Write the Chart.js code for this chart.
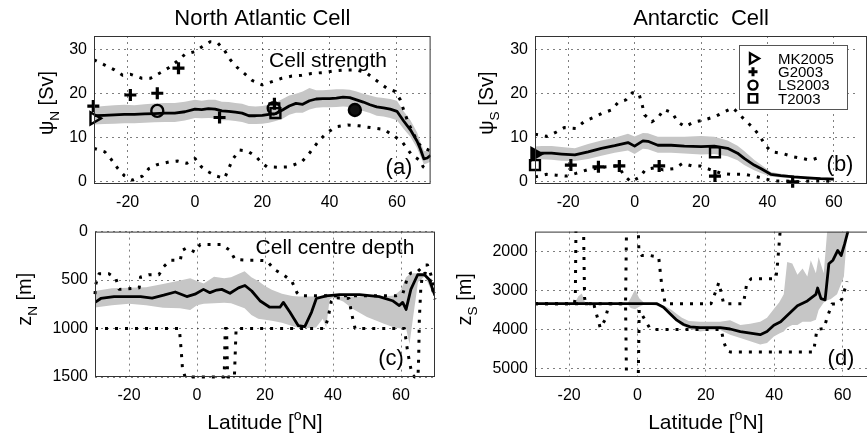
<!DOCTYPE html>
<html>
<head>
<meta charset="utf-8">
<title>Overturning cells</title>
<script src="https://cdn.jsdelivr.net/npm/chart.js@4.4.1/dist/chart.umd.min.js"></script>
<style>
  body { margin: 0; background: #fff; }
  #wrap { position: relative; width: 867px; height: 434px; overflow: hidden; }
  canvas { position: absolute; }
</style>
</head>
<body>
<div id="wrap">
  <canvas id="cA" width="440" height="215" style="left:0px;top:0px"></canvas>
  <canvas id="cB" width="427" height="215" style="left:440px;top:0px"></canvas>
  <canvas id="cC" width="440" height="219" style="left:0px;top:215px"></canvas>
  <canvas id="cD" width="427" height="219" style="left:440px;top:215px"></canvas>
</div>
<script>
// tick labels
var latTicks = [-20, 0, 20, 40, 60];
var psiTicks = [0, 10, 20, 30];
var zNTicks = [0, 500, 1000, 1500];
var zSTicks = [2000, 3000, 4000, 5000];
var sources = ['MK2005', 'G2003', 'LS2003', 'T2003'];

// (a) North Atlantic cell strength [Sv]
var latA = [-30,-27,-24,-21,-18,-15,-12,-9,-6,-3,0,2,4,6,8,10,12,14,16,18,20,22,24,26,28,30,32,34,36,38,40,42,44,46,48,50,52,54,56,58,60,62,64,66,67,68,69,70];
var psiN = [15.0,15.1,15.2,15.3,15.3,15.4,15.5,15.6,15.6,15.9,16.5,16.4,16.6,16.5,16.1,16.0,15.8,15.6,15.0,15.0,15.1,15.3,15.5,16.3,17.2,17.8,17.6,18.4,18.8,18.9,18.9,19.0,19.2,19.1,18.6,18.1,17.5,17.0,16.8,16.5,16.0,13.8,11.8,9.2,7.4,5.2,5.4,6.0];
var bandUpA = [17.0,17.2,17.4,17.5,17.4,17.6,17.8,17.9,17.9,18.2,18.6,18.4,18.6,18.6,18.2,18.1,17.9,17.7,17.2,17.1,17.2,17.5,18.0,18.8,19.6,20.0,20.5,21.3,20.8,20.8,20.9,21.0,21.0,20.9,20.5,20.0,19.6,19.2,19.0,18.8,18.4,16.0,14.0,11.2,9.0,7.0,7.0,7.2];
var bandLoA = [13.0,13.1,13.2,13.3,13.3,13.4,13.5,13.6,13.6,13.9,14.5,14.4,14.5,14.4,14.0,14.0,13.8,13.6,13.1,13.1,13.2,13.4,13.8,14.3,15.2,15.7,15.7,16.4,16.8,16.9,16.9,17.0,17.1,17.0,16.5,16.1,15.6,15.0,14.8,14.5,14.0,12.0,10.2,7.6,5.8,4.0,4.2,4.6];
var hiLatA = [-30,-26.8,-23.9,-21.5,-19.1,-15.8,-13.2,-10.2,-7.8,-5.4,-2.9,-0.2,2.2,4.5,6.7,8.8,10.5,12.5,14.8,17,20,22,25.8,28.8,31.7,34.6,38,41.5,44.9,47.8,50.8,53.7,57.1,59.5,61,62,63.4,64.9,66.3,68.3,70];
var hiA = [27.7,26.5,25.4,24.2,24.4,23.5,23.5,24.8,25.9,27.3,29,29.5,30.7,31.8,31.6,29.8,27.7,26,24.5,23,22,22.5,23.5,24,24.2,24.6,24.8,25.2,25.4,25.4,24.8,23.1,21.2,20.5,18.6,16.3,13.3,11,8.7,7.6,7.0];
var loLatA = [-30,-26.8,-24.9,-22.9,-21,-18.5,-15.6,-13.7,-11.2,-7.8,-5.1,-2.4,0,1.9,3.9,6.3,8.8,11.2,13.2,15.6,18,20,21.4,24.4,27.8,31.7,34.1,36.6,39,41.9,45.4,48.7,52.2,56.1,59.5,61.5,64.4,66.8,67.8,69.5];
var loA = [7.6,6.8,5.1,3,1.4,0.4,1.3,3,3.9,4.5,4.7,4.2,5.3,3.4,2.3,1.3,0.8,5.1,7.2,7,5.8,4.2,3.4,3.3,3.4,4.5,6.6,9.1,11,12.5,12.9,12.7,12.3,11.9,10.2,9.1,6.1,4.9,3.4,2.5];
var mkLatA = [-30], mkA = [14.4];
var gLatA = [-30.2,-19.2,-11.2,-4.9,7.3,23.6], gA = [17.2,19.7,20.1,25.8,14.6,17.7];
var lsLatA = [-11.2,23.4,47.5], lsA = [16.1,16.7,16.3];
var tLatA = [23.9], tA = [15.6];

// (b) Antarctic cell strength [Sv]
var latB = [-30,-28,-25,-22,-18,-14,-10,-6,-2,0,2.5,4,7,11,15,20,24,28,31,33,36,38,41,44,48,52,56,60];
var psiS = [6.4,6.5,6.5,6.3,6.1,6.8,7.6,8.2,8.9,8.1,9.3,9.2,8.3,8.3,8.1,8.0,8.1,7.6,6.5,5.3,3.8,3.0,1.7,1.4,1.1,0.9,0.7,0.6];
var bandUpB = [8.0,8.1,8.1,7.9,7.6,8.6,9.4,10.0,10.9,10.3,11.1,11.0,10.2,10.2,10.2,10.4,10.2,9.4,8.2,7.0,5.0,3.9,2.2,1.8,1.4,1.2,1.0,0.9];
var bandLoB = [5.0,5.1,5.0,4.8,4.7,5.2,5.9,6.6,7.1,6.3,7.5,7.4,6.6,6.6,6.4,6.2,6.3,5.8,4.9,3.8,2.6,2.0,1.2,1.0,0.8,0.6,0.4,0.3];
var hiLatB = [-30,-26.5,-23.6,-21.2,-17.7,-15.3,-12.4,-9.9,-7,-5,-2.6,-0.7,1.3,2.3,3,5.2,7.1,8.8,11.3,13,15.2,17.9,20.8,24.2,27.1,29.6,33,35.9,37.9,39.3,41.3,44.7,47.7,50.6,53,55.5];
var hiB = [10.8,10.3,11.3,12.3,12.1,13.6,14.6,15.5,16.3,18,18.6,20.2,20,17.4,15.2,13.6,14.6,16.4,15.7,13.6,12.5,13.6,14,14.8,15.9,16.8,14.2,12.1,10.2,8.3,6.8,6.4,5.7,5.3,4.9,5.5];
var loLatB = [-30,-26.5,-23.6,-20.5,-17.7,-14.3,-8.5,-5,-3.1,-1.1,1.6,3.3,6.2,8.6,12,14.5,17.3,19.8,23,26.2,29.1,33,35.9,38.8,41.8,44.7,49.6,53.5,57.4,60.3];
var loB = [1.1,1.7,1.5,1.3,1.9,2.7,3.4,3.6,1.4,0,1.1,2.8,3.2,2.7,3,4.2,3.6,3.6,2.7,1.9,1.7,1.7,1.3,0.8,0.2,0.2,0,0.2,0.2,0];
var mkLatB = [-30], mkB = [6.3];
var gLatB = [-19.2,-10.9,-4.6,7.4,24.2,47.6], gB = [3.8,3.4,3.6,3.6,1.3,0];
var tLatB = [-30,24.2], tB = [3.8,6.7];

// (c) North Atlantic cell centre depth [m]
var latC = [-30,-28.3,-24.4,-20.5,-16.6,-13.2,-9.8,-6.4,-3,-0.6,1.9,3.8,5.8,7.3,9.7,12.2,14.1,16.1,18.5,21.4,24.4,25.4,27.3,29.8,31.7,33.7,35.1,38,41.9,47.8,53.6,57.5,59.5,60.5,61.5,62.9,64.9,66.9,68.3,70];
var zN = [730,690,670,670,670,686,656,623,670,646,596,630,603,596,636,580,556,613,713,780,780,730,830,971,981,830,690,663,650,650,670,713,763,730,803,596,445,445,495,660];
var bandLatC = [-30,-25,-20,-15,-10,-5,-2,0,2,5,8,10,12,14,16,18,20,22,25,28,30,33,35,37,38,39,40,43,46,50,55,58,60,61.5,62.5,63.5,65,67,70];
var bandUpC = [612,585,578,575,540,505,480,510,535,465,480,470,440,410,470,510,560,600,640,665,670,670,670,660,640,650,670,670,670,670,670,660,600,470,440,430,430,440,620];
var bandLoC = [782,760,745,760,785,790,810,760,745,740,735,740,765,790,860,900,910,920,940,975,995,995,990,900,990,700,680,720,800,880,950,990,1000,1000,1160,900,520,460,690];
var hiLatC = [-30,-29.8,-28.8,-25.9,-23.9,-22.9,-17,-16.6,-14.2,-11.2,-9.8,-7.8,-4.9,-4.4,-3,-0.6,0.9,4.8,7.3,9.7,11.2,14.6,17.5,20.5,22.9,25.4,27.9,29.4,30.3,58.5,60.5,62,62.9,64.4,66.9,67.8,68.8,69.8];
var hiC = [646,546,435,435,479,596,580,469,445,445,362,295,295,194,168,211,134,134,134,194,288,295,295,301,395,445,512,630,663,663,646,462,428,428,345,345,445,630];
var loLatC = [-30,-5.2,-4.9,-4.6,-4.3,-3.5,8,8.3,8.7,9,11,11.5,37.5,38.5,39.5,40.3,44.7,45.5,46.5,61,62,63.2,64,65,65.2,65.4,65.8,66.3,67,68,69,70];
var loC = [1000,1000,1120,1250,1400,1500,1500,1000,1000,1500,1500,1000,1000,900,720,680,690,850,1000,1000,1250,1470,1500,1500,1300,900,600,440,430,440,550,700];

// (d) Antarctic cell centre depth [m]
var latD = [-30,-20,-10,0,4,5.7,7.6,9.6,11.5,13.5,15.4,18.3,21.3,24.2,27.1,30.1,33,35.9,37.9,39.9,41.9,43.8,46.8,49.7,52.2,52.7,53.7,54.9,56,57.2,58.6,59.6,60.6,61.6];
var zS = [3340,3340,3340,3340,3340,3340,3430,3600,3760,3870,3930,3950,3950,3950,3985,4050,4090,4130,4050,3890,3800,3640,3390,3270,3100,2940,3210,3240,2320,2230,1980,2110,1820,1490];
var bandLatD = [-30,-18.5,-17.3,-16.3,-15.2,-13.5,-3,-2,-0.7,0.5,2,5,8,10,11.5,13,15,18.3,21,24.2,27.1,30.1,33,35.9,37.9,39.9,41.5,42.8,43.8,45.3,46.8,48.3,49.7,50.7,52.2,53,54.5,55.5,56.5,58.4,60.4,61.4];
var bandUpD = [3340,3340,3150,3080,3340,3340,3340,3200,2980,3200,3320,3330,3400,3500,3600,3700,3780,3800,3800,3800,3765,3886,3850,3803,3700,3472,3300,3100,2273,2315,2604,2439,2645,2232,2562,2149,2562,1500,1500,1500,1500,1500];
var bandLoD = [3340,3340,3340,3340,3340,3340,3340,3450,3480,3420,3360,3380,3450,3650,3800,3900,3980,4052,4020,4010,4134,4217,4300,4382,4341,4176,4100,4052,3950,3886,3886,3803,3803,3803,3750,3500,3307,3250,3224,3100,2645,1490];
var hiLatD = [-30,-18.5,-18.2,-18,-15.8,-15.5,-15.2,-3.5,-3.2,0.2,0.4,1.3,3.7,6.2,6.8,7.2,7.6,8.1,21.5,22.8,23.8,24.6,25.2,31,32,33.3,40.5,41,41.6,41.9];
var hiD = [3340,3340,3180,1300,1300,3180,3340,3340,1300,1300,2000,2110,2110,2150,2650,2935,3100,3340,3340,3050,2800,3100,3340,3340,2810,2700,2700,2300,1650,1300];
var loLatD = [-30,-12.8,-12.4,-11.6,-10.9,-9.5,-8.8,-8.2,-3.5,-3.2,0.2,0.5,1.5,2.5,3.5,4.5,24.5,25.2,26.2,27.1,51.5,52,52.5,54.6,55.4,56.9,58.3,59.8,60.8,61.3];
var loD = [3340,3340,3490,3730,3960,3750,3510,3340,3340,5400,5400,3500,3650,3800,3950,4000,4000,4300,4550,4570,4570,4300,4000,3970,3720,3350,3350,3220,2935,2770];

var FONT = "'Liberation Sans', Arial, sans-serif";
Chart.defaults.font.family = FONT;
Chart.defaults.color = '#000';

function pts(xs, ys) {
  return xs.map(function (x, i) { return {x: x, y: ys[i]}; });
}

function bandSets(xs, up, lo) {
  return [
    {data: pts(xs, up), showLine: true, pointRadius: 0, borderWidth: 0, borderColor: 'rgba(0,0,0,0)',
     backgroundColor: '#c6c6c6', fill: '+1', order: 4},
    {data: pts(xs, lo), showLine: true, pointRadius: 0, borderWidth: 0, borderColor: 'rgba(0,0,0,0)',
     fill: false, order: 4}
  ];
}

function lineSet(xs, ys, dotted, clip) {
  var ds = {
    data: pts(xs, ys), showLine: true, pointRadius: 0, fill: false,
    borderColor: '#000', borderWidth: dotted ? 3 : 2.8,
    borderDash: dotted ? [3, 7] : [], borderCapStyle: 'butt',
    borderJoinStyle: 'round', order: dotted ? 3 : 2
  };
  if (clip !== undefined) ds.clip = clip;
  return ds;
}

function markSet(xs, ys, style, r, fillCol, rot) {
  return {
    data: pts(xs, ys), showLine: false, clip: false, order: 1,
    pointStyle: style, pointRadius: r, pointBorderWidth: style === 'cross' ? 3.2 : 2.4,
    pointBorderColor: '#000', pointBackgroundColor: fillCol || 'rgba(0,0,0,0)',
    pointRotation: rot || 0
  };
}

function richWidth(ctx, parts, size) {
  var w = 0;
  parts.forEach(function (p) {
    ctx.font = (p.s ? size * 0.68 : size) + 'px ' + FONT;
    w += ctx.measureText(p.t).width;
  });
  return w;
}

function drawRich(ctx, parts, cx, cy, size, rot) {
  ctx.save();
  ctx.translate(cx, cy);
  if (rot) ctx.rotate(-Math.PI / 2);
  ctx.fillStyle = '#000';
  ctx.textBaseline = 'alphabetic';
  ctx.textAlign = 'left';
  var x = -richWidth(ctx, parts, size) / 2;
  parts.forEach(function (p) {
    var sz = p.s ? size * 0.68 : size;
    var dy = p.s === 'sub' ? size * 0.28 : (p.s === 'sup' ? -size * 0.42 : 0);
    ctx.font = sz + 'px ' + FONT;
    ctx.fillText(p.t, x, size * 0.36 + dy);
    x += ctx.measureText(p.t).width;
  });
  ctx.restore();
}

function legendMark(ctx, style, x, y, r, rot) {
  ctx.lineWidth = style === 'cross' ? 3 : 2.4;
  ctx.strokeStyle = '#000';
  ctx.fillStyle = '#fff';
  Chart.helpers.drawPoint(ctx, {pointStyle: style, radius: r, rotation: rot || 0, borderWidth: ctx.lineWidth}, x, y);
}

var decor = {
  id: 'decor',
  afterDraw: function (chart, args, o) {
    var ctx = chart.ctx, a = chart.chartArea;
    var ox = chart.canvas.offsetLeft, oy = chart.canvas.offsetTop;
    var xs = chart.scales.x;
    var right = xs.getPixelForValue(70), left = xs.getPixelForValue(-30);
    var mid = (left + right) / 2;
    ctx.save();
    ctx.strokeStyle = '#333';
    ctx.lineWidth = 1;
    ctx.strokeRect(a.left + 0.5, a.top + 0.5, right - a.left - 1, a.bottom - a.top - 1);
    ctx.restore();

    if (o.title) drawRich(ctx, [{t: o.title}], mid, 17 - oy, 22);
    drawRich(ctx, o.ylab, o.ylabX - ox, (a.top + a.bottom) / 2 + o.ylabDy, 20, true);
    if (o.noteText) drawRich(ctx, [{t: o.noteText}], o.noteX - ox, o.noteY - oy, 21);
    drawRich(ctx, [{t: o.letter}], o.letterX - ox, o.letterY - oy, 22);
    if (o.xlab) {
      drawRich(ctx, [{t: 'Latitude ['}, {t: 'o', s: 'sup'}, {t: 'N]'}], mid, 421 - oy, 21);
    }
    if (o.legend) {
      var bx = 739 - ox, by = 45 - oy;
      ctx.save();
      ctx.fillStyle = '#fff';
      ctx.fillRect(bx, by, 108, 64);
      ctx.strokeStyle = '#555';
      ctx.lineWidth = 1;
      ctx.strokeRect(bx + 0.5, by + 0.5, 108, 64);
      var styles = [['triangle', 6, 90], ['cross', 4.5, 0], ['circle', 4.5, 0], ['rect', 6, 0]];
      for (var i = 0; i < sources.length; i++) {
        var ry = by + 13.5 + i * 13.3;
        legendMark(ctx, styles[i][0], bx + 14, ry, styles[i][1], styles[i][2]);
        ctx.fillStyle = '#000';
        ctx.font = '15px ' + FONT;
        ctx.textBaseline = 'middle';
        ctx.textAlign = 'left';
        ctx.fillText(sources[i], bx + 39, ry + 1);
      }
      ctx.restore();
    }
  }
};

function plain(v) { return String(v); }

function makePanel(id, o) {
  var gridOpts = {color: 'rgba(0,0,0,0.5)', lineWidth: 1, drawTicks: false};
  return new Chart(document.getElementById(id), {
    type: 'scatter',
    data: {datasets: o.datasets},
    options: {
      responsive: false,
      animation: false,
      events: [],
      layout: {padding: o.pad},
      plugins: {legend: {display: false}, tooltip: {enabled: false}, decor: o.decor},
      scales: {
        x: {
          type: 'linear', min: -30, max: o.xMax,
          afterBuildTicks: function (s) { s.ticks = latTicks.map(function (v) { return {value: v}; }); },
          afterFit: function (s) { s.height = o.xH; },
          grid: gridOpts, border: {display: false, dash: [2, 4]},
          ticks: {font: {size: 16}, padding: 9, maxRotation: 0, callback: plain}
        },
        y: {
          type: 'linear', min: o.yMin, max: o.yMax, reverse: !!o.reverse,
          afterBuildTicks: function (s) { s.ticks = o.yTicks.map(function (v) { return {value: v}; }); },
          afterFit: function (s) { s.width = o.yW; },
          grid: gridOpts, border: {display: false, dash: [2, 4]},
          ticks: {font: {size: 16}, padding: 7, callback: plain}
        }
      }
    },
    plugins: [decor]
  });
}

var xMaxRight = -30 + 332 / 3.417;

makePanel('cA', {
  pad: {left: 0, right: 5, top: 36, bottom: 0}, xH: 31, yW: 94, xMax: 70,
  yMin: -0.5, yMax: 33.1, yTicks: psiTicks,
  decor: {title: 'North Atlantic Cell', ylab: [{t: 'ψ'}, {t: 'N', s: 'sub'}, {t: ' [Sv]'}], ylabX: 46, ylabDy: -7,
          noteText: 'Cell strength', noteX: 328, noteY: 59, letter: '(a)', letterX: 399, letterY: 166},
  datasets: [
    markSet(mkLatA, mkA, 'triangle', 7, null, 90),
    markSet(gLatA, gA, 'cross', 6),
    markSet(lsLatA, lsA, 'circle', 6, ['rgba(0,0,0,0)', 'rgba(0,0,0,0)', '#111']),
    markSet(tLatA, tA, 'rect', 7),
    lineSet(latA, psiN, false),
    lineSet(hiLatA, hiA, true),
    lineSet(loLatA, loA, true)
  ].concat(bandSets(latA, bandUpA, bandLoA))
});

makePanel('cB', {
  pad: {left: 0, right: 0, top: 36, bottom: 0}, xH: 31, yW: 95, xMax: xMaxRight,
  yMin: -0.5, yMax: 33.1, yTicks: psiTicks,
  decor: {title: 'Antarctic  Cell', ylab: [{t: 'ψ'}, {t: 'S', s: 'sub'}, {t: ' [Sv]'}], ylabX: 486, ylabDy: -7,
          letter: '(b)', letterX: 840, letterY: 163, legend: true},
  datasets: [
    markSet(mkLatB, mkB, 'triangle', 7, '#000', 90),
    markSet(gLatB, gB, 'cross', 6),
    markSet(tLatB, tB, 'rect', 7),
    lineSet(latB, psiS, false),
    lineSet(hiLatB, hiB, true),
    lineSet(loLatB, loB, true)
  ].concat(bandSets(latB, bandUpB, bandLoB))
});

makePanel('cC', {
  pad: {left: 0, right: 5, top: 12, bottom: 0}, xH: 57, yW: 95, xMax: 70,
  yMin: 0, yMax: 1500, reverse: true, yTicks: zNTicks,
  decor: {ylab: [{t: 'z'}, {t: 'N', s: 'sub'}, {t: ' [m]'}], ylabX: 24, ylabDy: -5,
          noteText: 'Cell centre depth', noteX: 335, noteY: 246, letter: '(c)', letterX: 391, letterY: 357, xlab: true},
  datasets: [
    lineSet(latC, zN, false),
    lineSet(hiLatC, hiC, true, 3),
    lineSet(loLatC, loC, true, 3)
  ].concat(bandSets(bandLatC, bandUpC, bandLoC))
});

makePanel('cD', {
  pad: {left: 0, right: 0, top: 12, bottom: 0}, xH: 57, yW: 95, xMax: xMaxRight,
  yMin: 1500, yMax: 5210, reverse: true, yTicks: zSTicks,
  decor: {ylab: [{t: 'z'}, {t: 'S', s: 'sub'}, {t: ' [m]'}], ylabX: 464, ylabDy: -5,
          letter: '(d)', letterX: 841, letterY: 357, xlab: true},
  datasets: [
    lineSet(latD, zS, false),
    lineSet(hiLatD, hiD, true),
    lineSet(loLatD, loD, true)
  ].concat(bandSets(bandLatD, bandUpD, bandLoD))
});
</script>
</body>
</html>
